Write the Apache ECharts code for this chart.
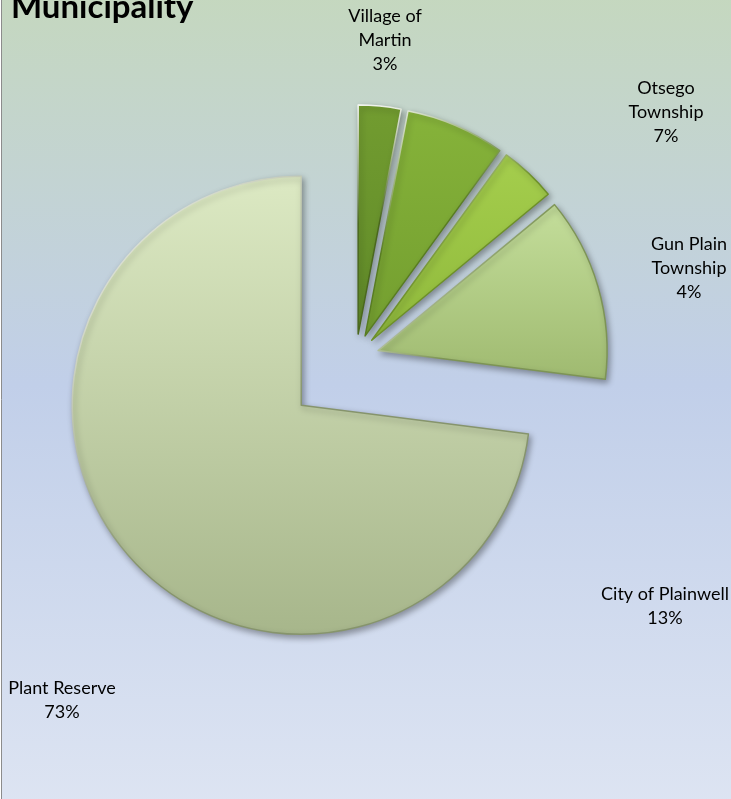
<!DOCTYPE html>
<html><head><meta charset="utf-8">
<script src="https://cdn.jsdelivr.net/npm/echarts@6/dist/echarts.min.js"></script>
<style>html,body{margin:0;padding:0;background:#fff;}#c{width:731px;height:799px;}</style>
</head><body><div id="c"></div>
<script>
// ---- data ----
const categories = ['Village of Martin', 'Otsego Township', 'Gun Plain Township', 'City of Plainwell', 'Plant Reserve'];
const labelLines = ['Village of\nMartin', 'Otsego\nTownship', 'Gun Plain\nTownship', 'City of Plainwell', 'Plant Reserve'];
const values = [3, 7, 4, 13, 73];
const titleText = 'Municipality';

// ---- styling (not data) ----
const sliceTop = ['#729c30', '#86b33a', '#a5ce4d', '#c4de9b', '#dce9c3'];
const sliceBottom = ['#608a28', '#739e2f', '#8fb93b', '#9fba70', '#a7b68b'];
const sliceEdge = ['#4a681d', '#587c21', '#6d9028', '#7d9455', '#86946c'];
const explodeSmall = [true, true, true, true, false];
const labelPos = [[385, 40], [666, 112], [689, 268], [665, 606], [62, 700]];
const FONT = 'Lato';

function grad(a, b) {
  return new echarts.graphic.LinearGradient(0, 0, 0, 1, [{offset: 0, color: a}, {offset: 1, color: b}]);
}
function bevel(edge) {
  return new echarts.graphic.LinearGradient(0, 0, 1, 1, [
    {offset: 0, color: 'rgba(255,255,255,0.9)'},
    {offset: 0.5, color: edge},
    {offset: 1, color: edge}
  ]);
}

function buildData(group) {
  return categories.map((c, i) => {
    const mine = explodeSmall[i] === group;
    return {
      name: c,
      value: values[i],
      selected: mine,
      itemStyle: mine ? {
        color: grad(sliceTop[i], sliceBottom[i]),
        borderColor: bevel(sliceEdge[i]),
        borderWidth: 1.5,
        shadowBlur: 6,
        shadowColor: 'rgba(0,0,0,0.35)',
        shadowOffsetX: 2,
        shadowOffsetY: 3
      } : {color: 'rgba(0,0,0,0)', borderWidth: 0, shadowBlur: 0}
    };
  });
}

function makeSeries(group, offset) {
  return {
    type: 'pie',
    center: [356, 357],
    radius: [0, 229],
    startAngle: 90,
    clockwise: true,
    selectedMode: 'multiple',
    selectedOffset: offset,
    animation: false,
    silent: true,
    emphasis: {disabled: true},
    label: {show: false},
    labelLine: {show: false},
    data: buildData(group)
  };
}

const total = values.reduce((a, b) => a + b, 0);
const labelGraphics = categories.map((c, i) => ({
  type: 'text',
  silent: true,
  z: 10,
  x: labelPos[i][0],
  y: labelPos[i][1],
  style: {
    text: labelLines[i] + '\n' + Math.round(values[i] / total * 100) + '%',
    fontFamily: FONT,
    fontSize: 18,
    lineHeight: 24,
    fill: '#000',
    align: 'center',
    verticalAlign: 'middle'
  }
}));

const chart = echarts.init(document.getElementById('c'), null, {renderer: 'canvas'});
chart.setOption({
  animation: false,
  graphic: [{
    type: 'rect',
    z: -10,
    silent: true,
    shape: {x: 1.5, y: -20, width: 800, height: 900},
    style: {
      fill: new echarts.graphic.LinearGradient(0, 0, 0, 1, [
        {offset: 0, color: '#c5d8bd'},
        {offset: 0.45, color: '#c1cfe9'},
        {offset: 1, color: '#e2e8f4'}
      ]),
      stroke: '#8c8c8c',
      lineWidth: 1
    }
  }].concat(labelGraphics),
  title: {
    text: titleText,
    left: 6,
    top: -14,
    textStyle: {fontFamily: FONT, fontWeight: 'bold', fontSize: 33, color: '#000'}
  },
  series: [makeSeries(false, 73), makeSeries(true, 23)]
});
</script>
</body></html>
